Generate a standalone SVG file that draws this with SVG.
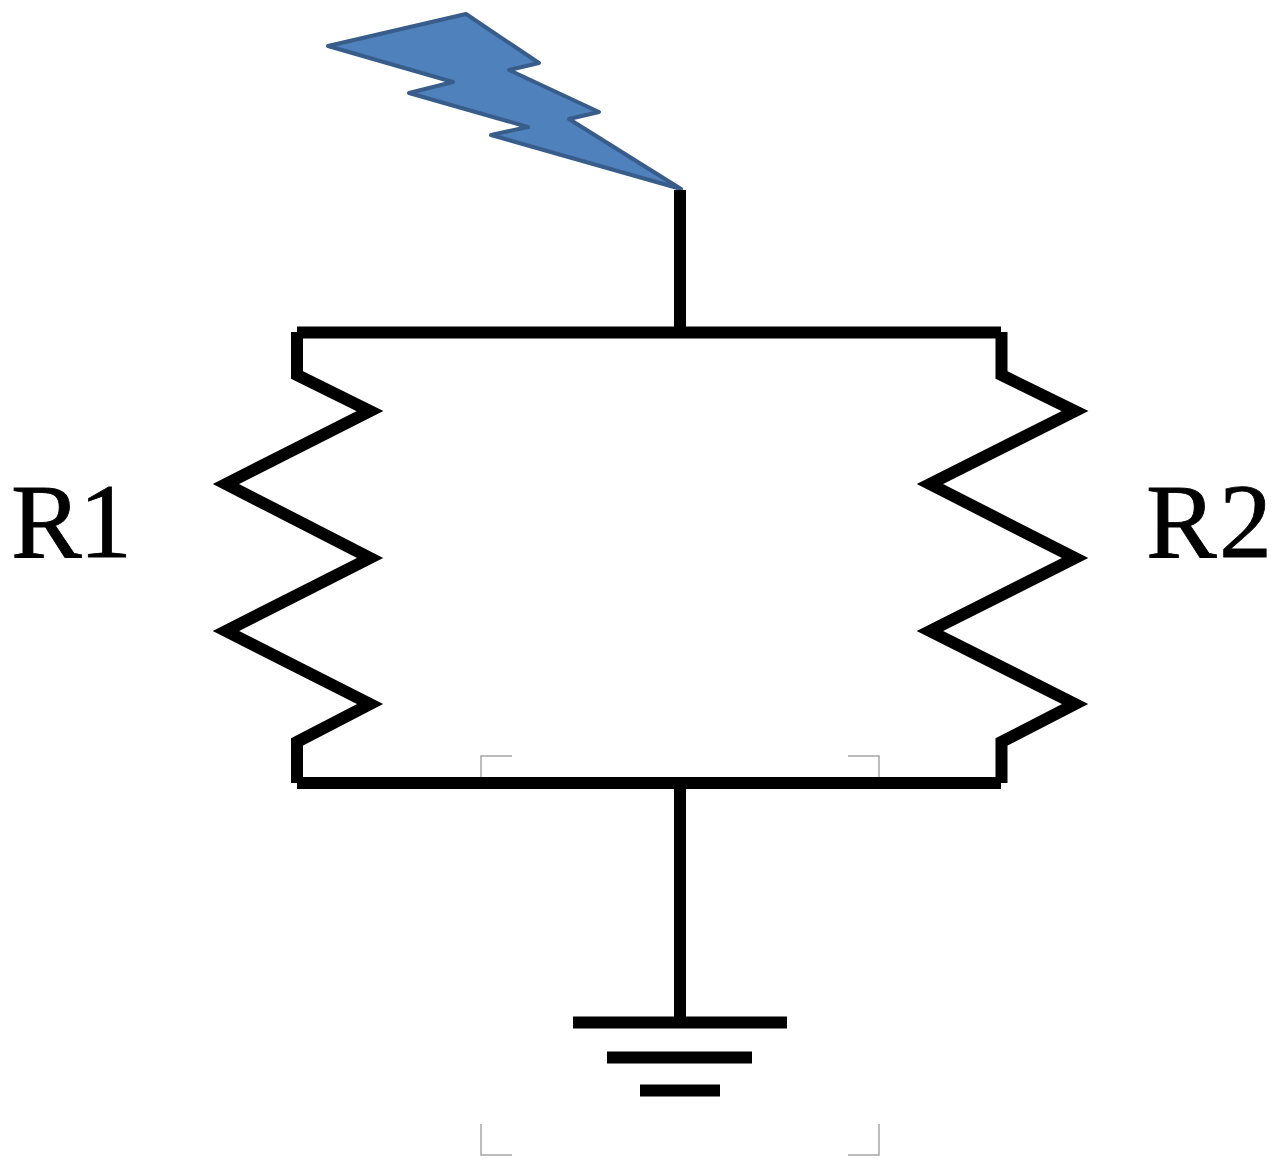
<svg xmlns="http://www.w3.org/2000/svg" width="1276" height="1160" viewBox="0 0 1276 1160">
<style>
.w{fill:none;stroke:#000;stroke-width:12;stroke-linejoin:miter}
.b{fill:none;stroke:#a6a6a6;stroke-width:1.5}
.t{font-family:"Liberation Serif",serif;font-size:106px;fill:#000;stroke:#000;stroke-width:.8}
</style>
<rect width="1276" height="1160" fill="#fff"/>
<g id="bolt"><polygon points="328,46 466,14 539,63 509,70 599,112 569,119 681,189 491,135 528,127 409,93 453,82" fill="#4f81bd" stroke="#385d8a" stroke-width="4" stroke-linejoin="round"/></g>
<g id="connectors">
<path class="w" d="M680 190V332"/>
<path class="w" d="M297 332.500H1001"/>
<path class="w" d="M297 783H1001"/>
<path class="w" d="M680 783V1022"/>
</g>
<g id="R1"><path class="w" d="M297 332V375L370 411L226 484L370 558L226 631L370 704L297 742V783"/><text class="t" x="11 79" y="557">R1</text></g>
<g id="R2"><path class="w" d="M1001.500 332V375L1075 411L930 484L1075 558L930 631L1075 704L1001.500 742V783"/><text class="t" x="1146 1219" y="557">R2</text></g>
<g id="ground"><path class="w" d="M573 1022.500H787M607 1057.500H752M640 1090.500H720"/></g>
<g id="handles"><path class="b" d="M481 777V756H512M848 756H879V777M481 1124V1155H512M848 1155H879V1124"/></g>
</svg>
